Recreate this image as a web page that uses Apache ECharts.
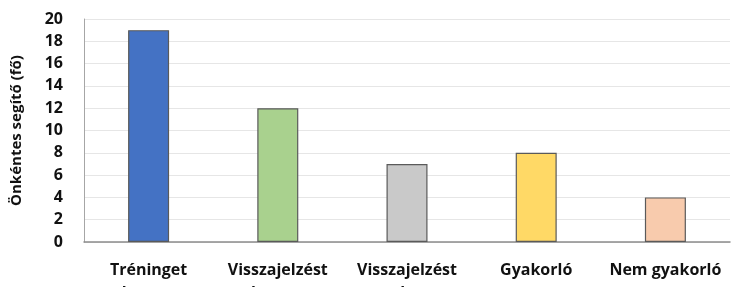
<!DOCTYPE html>
<html><head><meta charset="utf-8">
<script src="https://cdn.jsdelivr.net/npm/echarts@6/dist/echarts.min.js"></script>
<style>html,body{margin:0;padding:0;background:#fff}#c{width:734px;height:287px}</style>
</head><body><div id="c"></div>
<script>
const categories = ["Tréninget\nkapott", "Visszajelzést\nkapott", "Visszajelzést\nnem kapott", "Gyakorló", "Nem gyakorló"];
const values = [19, 12, 7, 8, 4];
const barColors = ["#4472C4", "#A9D18E", "#C9C9C9", "#FFD966", "#F8CBAD"];
const yTicks = [0, 2, 4, 6, 8, 10, 12, 14, 16, 18, 20];
const yTitle = "Önkéntes segítő (fő)";

const chart = echarts.init(document.getElementById('c'), null, {renderer: 'canvas'});
chart.setOption({
  animation: false,
  grid: {left: 84, right: 4, top: 19, bottom: 45, containLabel: false, outerBoundsMode: 'none'},
  xAxis: {
    type: 'category', data: categories,
    axisLine: {show: true, lineStyle: {color: '#8c8c8c', width: 1.5}},
    axisTick: {show: false},
    axisLabel: {margin: 17, fontFamily: 'Open Sans', fontWeight: 'bold', fontSize: 16, color: '#111', lineHeight: 23, interval: 0}
  },
  yAxis: {
    type: 'value', min: yTicks[0], max: yTicks[yTicks.length-1], interval: 2,
    name: yTitle, nameLocation: 'middle', nameGap: 60, nameRotate: 90,
    nameTextStyle: {fontFamily: 'Open Sans', fontWeight: 'bold', fontSize: 15, color: '#111'},
    axisLine: {show: true, lineStyle: {color: '#a6a6a6', width: 1}},
    axisTick: {show: false},
    axisLabel: {margin: 21, fontFamily: 'Open Sans', fontWeight: 'bold', fontSize: 16, color: '#111'},
    splitLine: {show: true, lineStyle: {color: '#e6e6e6', width: 1}}
  },
  series: [{
    type: 'bar', barWidth: 41,
    data: values.map((v, i) => ({value: v, itemStyle: {color: barColors[i]}})),
    itemStyle: {borderColor: '#5a5a5a', borderWidth: 1.2}
  }]
});
</script></body></html>
